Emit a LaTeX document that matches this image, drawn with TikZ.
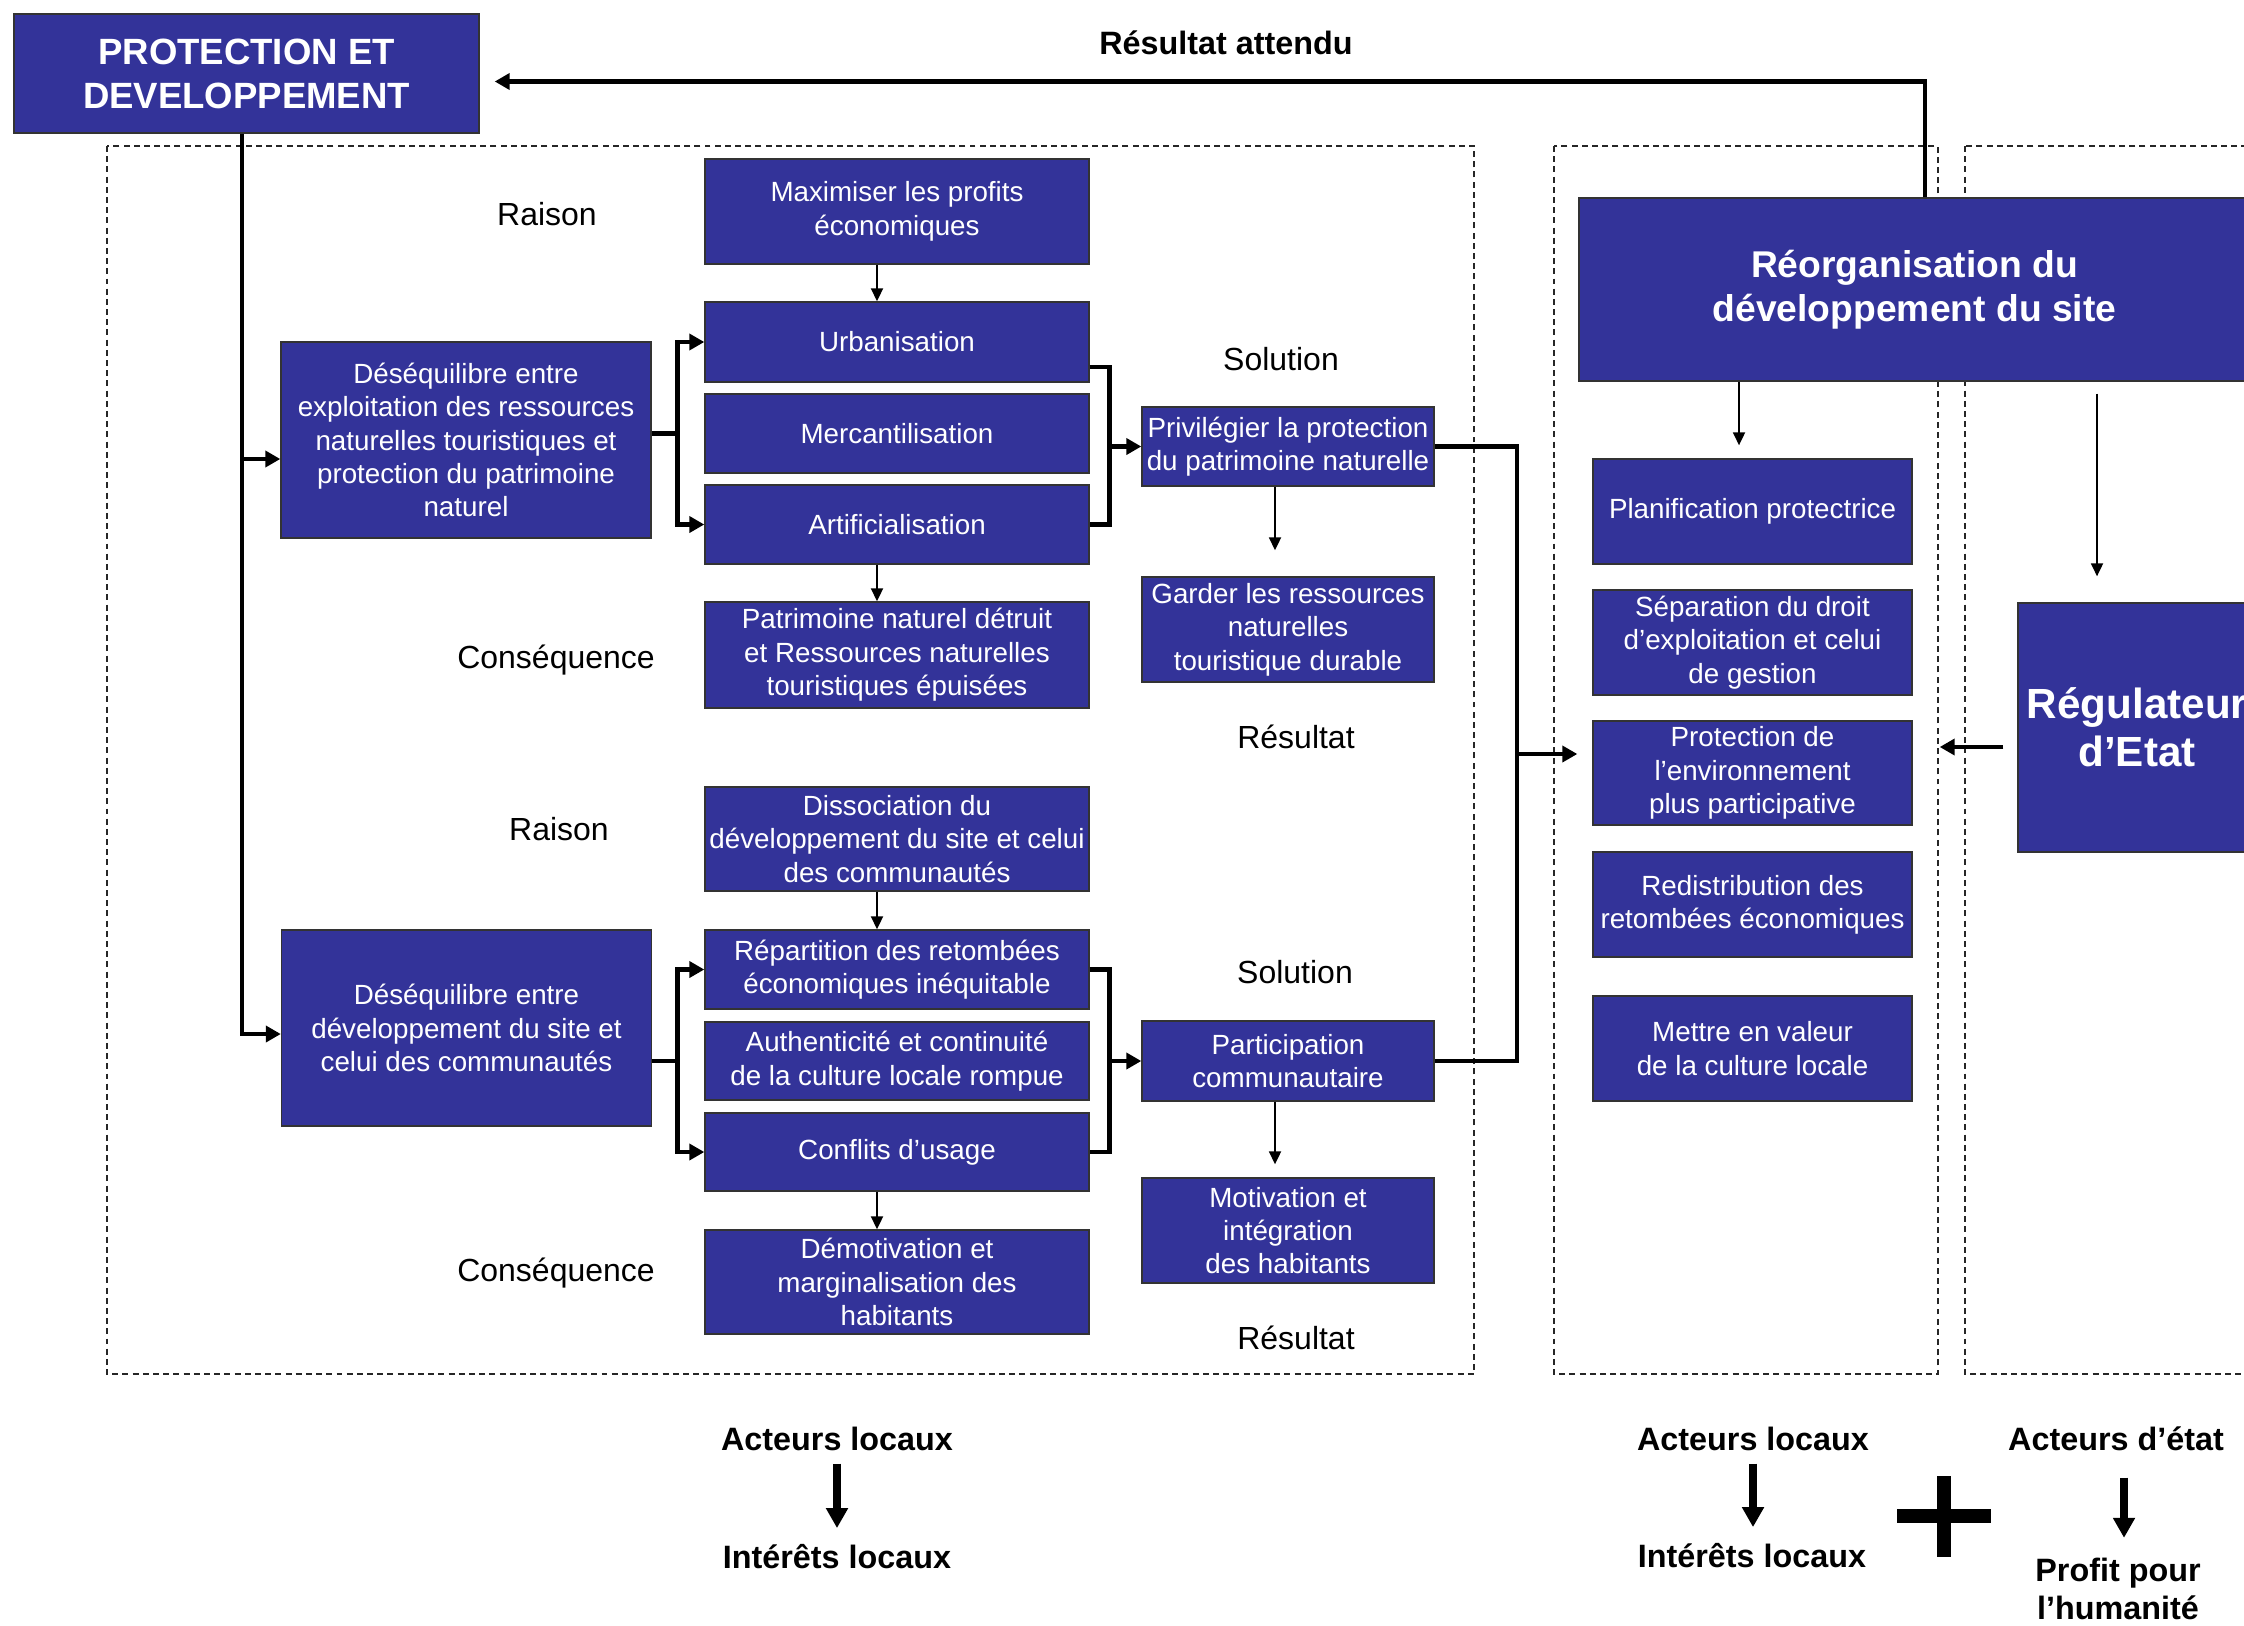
\documentclass[tikz,border=0pt]{standalone}
\usepackage{fontspec}
\setmainfont{Liberation Sans}
\usepackage{tikz}
\usetikzlibrary{arrows.meta,positioning}
\definecolor{fdblue}{HTML}{333399}

\begin{document}
\begin{tikzpicture}[
  box/.style={draw=black!80, fill=fdblue, text=white, align=center, inner sep=0pt,
              font=\fontsize{7.9}{9.5}\selectfont},
  midbox/.style={box, minimum width=38.4mm},
  leftbox/.style={box, minimum width=37mm, minimum height=19.6mm},
  solbox/.style={box, minimum width=29.2mm},
  rightbox/.style={box, minimum width=31.9mm, minimum height=10.5mm},
  frame/.style={draw=black!85, line width=0.55pt, dash pattern=on 1.7pt off 1.2pt},
  tag/.style={font=\fontsize{9.1}{11}\selectfont, inner sep=0pt},
  btag/.style={font=\bfseries\fontsize{9.2}{10.6}\selectfont, inner sep=0pt, align=center},
  thinarrow/.style={-{Triangle[length=1.3mm, width=1.2mm]}, line width=0.55pt},
  link/.style={line width=1.4pt},
  linkarrow/.style={link, -{Triangle[length=1.5mm, width=1.6mm]}},
  fatarrow/.style={line width=2.5pt, -{Triangle[length=2mm, width=2.1mm]}},
]
  \useasboundingbox (0,0) rectangle (22.44,-16.25);
  \clip (0,0) rectangle (22.44,-16.25);

  % frames -------------------------------------------------------------------
  \draw[frame] (1.07,-1.46) rectangle (14.74,-13.74);
  \draw[frame] (15.54,-1.46) rectangle (19.38,-13.74);
  \draw[frame] (19.65,-1.46) rectangle (23.00,-13.74);

  % head box -----------------------------------------------------------------
  \node[box, minimum width=46.5mm, minimum height=11.9mm,
        font=\bfseries\fontsize{10.4}{12.5}\selectfont] (prot) at (2.465,-0.735)
    {PROTECTION ET\\DEVELOPPEMENT};
  \node[btag] (attendu) at (12.26,-0.43) {Résultat attendu};

  % left column --------------------------------------------------------------
  \node[leftbox] (des1) at (4.66,-4.40)
    {Déséquilibre entre\\exploitation des ressources\\naturelles touristiques et\\protection du patrimoine\\naturel};
  \node[leftbox] (des2) at (4.665,-10.28)
    {Déséquilibre entre\\développement du site et\\celui des communautés};

  % middle column ------------------------------------------------------------
  \node[midbox, minimum height=10.5mm] (maxi) at (8.97,-2.115) {Maximiser les profits\\économiques};
  \node[midbox, minimum height=8.0mm] (urb) at (8.97,-3.42) {Urbanisation};
  \node[midbox, minimum height=7.9mm] (merc) at (8.97,-4.335) {Mercantilisation};
  \node[midbox, minimum height=7.9mm] (artif) at (8.97,-5.245) {Artificialisation};
  \node[midbox, minimum height=10.6mm] (patri) at (8.97,-6.55)
    {Patrimoine naturel détruit\\et Ressources naturelles\\touristiques épuisées};
  \node[midbox, minimum height=10.4mm] (disso) at (8.97,-8.39)
    {Dissociation du\\développement du site et celui\\des communautés};
  \node[midbox, minimum height=7.9mm] (repart) at (8.97,-9.695)
    {Répartition des retombées\\économiques inéquitable};
  \node[midbox, minimum height=7.8mm] (authen) at (8.97,-10.61)
    {Authenticité et continuité\\de la culture locale rompue};
  \node[midbox, minimum height=7.8mm] (conflits) at (8.97,-11.52) {Conflits d’usage};
  \node[midbox, minimum height=10.4mm] (demotiv) at (8.97,-12.82)
    {Démotivation et\\marginalisation des\\habitants};

  \node[tag] (raison1) at (5.47,-2.14) {Raison};
  \node[tag] (cons1) at (5.56,-6.60) {Conséquence};
  \node[tag] (raison2) at (5.59,-8.29) {Raison};
  \node[tag] (cons2) at (5.56,-12.73) {Conséquence};

  % solution column ----------------------------------------------------------
  \node[solbox, minimum height=7.9mm] (priv) at (12.88,-4.465)
    {Privilégier la protection\\du patrimoine naturelle};
  \node[solbox, minimum height=10.5mm] (garder) at (12.88,-6.295)
    {Garder les ressources\\naturelles\\touristique durable};
  \node[solbox, minimum height=8.0mm] (partic) at (12.88,-10.61)
    {Participation\\communautaire};
  \node[solbox, minimum height=10.5mm] (motiv) at (12.88,-12.305)
    {Motivation et\\intégration\\des habitants};

  \node[tag] (sol1) at (12.81,-3.59) {Solution};
  \node[tag] (res1) at (12.96,-7.37) {Résultat};
  \node[tag] (sol2) at (12.95,-9.72) {Solution};
  \node[tag] (res2) at (12.96,-13.38) {Résultat};

  % right columns ------------------------------------------------------------
  \node[box, minimum width=67.1mm, minimum height=18.3mm,
        font=\bfseries\fontsize{10.6}{12.5}\selectfont] (reorg) at (19.145,-2.895)
    {Réorganisation du\\développement du site};
  \node[rightbox] (planif) at (17.525,-5.115) {Planification protectrice};
  \node[rightbox] (separ) at (17.525,-6.425)
    {Séparation du droit\\d’exploitation et celui\\de gestion};
  \node[rightbox, minimum height=10.4mm] (protenv) at (17.525,-7.73)
    {Protection de\\l’environnement\\plus participative};
  \node[rightbox] (redis) at (17.525,-9.045)
    {Redistribution des\\retombées économiques};
  \node[rightbox] (mettre) at (17.525,-10.485)
    {Mettre en valeur\\de la culture locale};
  \node[box, minimum width=23.8mm, minimum height=24.9mm,
        font=\bfseries\fontsize{12}{13.7}\selectfont] (regul) at (21.37,-7.275)
    {Régulateur\\d’Etat};

  % connectors ---------------------------------------------------------------
  \coordinate (p0) at ([xshift=-0.45mm]prot.south);
  \draw[linkarrow] (p0) |- ([yshift=-0.6mm]des2.west);
  \draw[linkarrow] ([yshift=-1.9mm]des1.west -| p0) -- ([yshift=-1.9mm]des1.west);

  \coordinate (b1) at ([xshift=-2.7mm]merc.west);
  \draw[link] (des1.east |- b1) -- (b1);
  \draw[linkarrow] (b1) |- (urb.west);
  \draw[linkarrow] (b1) |- (artif.west);

  \coordinate (b2) at ([xshift=-2.7mm]authen.west);
  \draw[link] (des2.east |- b2) -- (b2);
  \draw[linkarrow] (b2) |- (repart.west);
  \draw[linkarrow] (b2) |- (conflits.west);

  \coordinate (j1) at ([xshift=-3.2mm]priv.west);
  \draw[link] ([yshift=-2.5mm]urb.east) -| (j1) |- (artif.east);
  \draw[linkarrow] (j1) -- (priv.west);

  \coordinate (j2) at ([xshift=-3.2mm]partic.west);
  \draw[link] (repart.east) -| (j2) |- (conflits.east);
  \draw[linkarrow] (j2) -- (partic.west);

  \coordinate (j3) at (15.17,-7.54);
  \draw[link] (priv.east) -| (j3) |- (partic.east);
  \draw[linkarrow] (j3) -- ([xshift=-1.5mm]protenv.west |- j3);

  \draw[thinarrow] ([xshift=-2mm]maxi.south) -- ([xshift=-2mm]urb.north);
  \draw[thinarrow] ([xshift=-2mm]artif.south) -- ([xshift=-2mm]patri.north);
  \draw[thinarrow] ([xshift=-2mm]disso.south) -- ([xshift=-2mm]repart.north);
  \draw[thinarrow] ([xshift=-2mm]conflits.south) -- ([xshift=-2mm]demotiv.north);
  \draw[thinarrow, shorten >=2.6mm] ([xshift=-1.3mm]priv.south) -- ([xshift=-1.3mm]garder.north);
  \draw[thinarrow, shorten >=1.3mm] ([xshift=-1.3mm]partic.south) -- ([xshift=-1.3mm]motiv.north);
  \draw[thinarrow, shorten >=1.3mm] ([xshift=-1.35mm]planif.north |- reorg.south)
    -- ([xshift=-1.35mm]planif.north);
  \draw[thinarrow, shorten <=1.2mm, shorten >=2.6mm] ([xshift=-4mm]regul.north |- reorg.south)
    -- ([xshift=-4mm]regul.north);

  \draw[linkarrow, shorten <=1.4mm, shorten >=2.7mm] ([yshift=-1.95mm]regul.west)
    -- ([yshift=-1.95mm]regul.west -| protenv.east);
  \draw[linkarrow, shorten >=1.5mm] ([xshift=1.05mm]reorg.north) |- ([yshift=-0.8mm]prot.east);

  % actors -------------------------------------------------------------------
  \node[btag] (actA) at (8.37,-14.39) {Acteurs locaux};
  \node[btag] (intA) at (8.37,-15.57) {Intérêts locaux};
  \draw[fatarrow, shorten <=1.2mm, shorten >=1.6mm] (actA.south) -- (actA.south |- intA.north);

  \node[btag] (actB) at (17.53,-14.39) {Acteurs locaux};
  \node[btag] (intB) at (17.52,-15.56) {Intérêts locaux};
  \draw[fatarrow, shorten <=1.2mm, shorten >=1.6mm] (actB.south) -- (actB.south |- intB.north);

  \node[btag] (actC) at (21.16,-14.39) {Acteurs d’état};
  \node[btag] (profit) at (21.18,-15.89) {Profit pour\\l’humanité};
  \draw[fatarrow, shorten <=2.6mm, shorten >=2mm] ([xshift=0.8mm]actC.south)
    -- ([xshift=0.8mm]actC.south |- profit.north);

  \fill (18.97,-15.09) rectangle (19.91,-15.23);
  \fill (19.37,-14.76) rectangle (19.51,-15.57);
\end{tikzpicture}
\end{document}
